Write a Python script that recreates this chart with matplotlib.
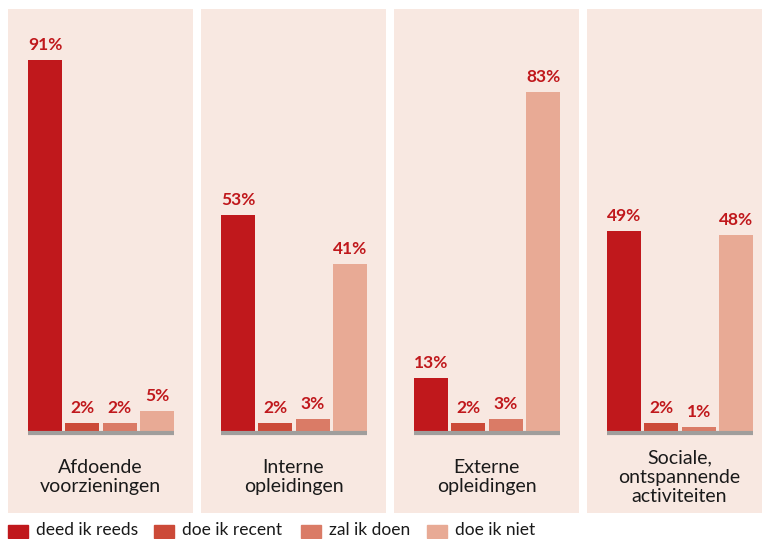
import matplotlib.pyplot as plt
from matplotlib.patches import Rectangle

plt.rcParams['font.family'] = ['Lato', 'DejaVu Sans']

categories = ['Afdoende\nvoorzieningen', 'Interne\nopleidingen',
              'Externe\nopleidingen', 'Sociale,\nontspannende\nactiviteiten']
series = ['deed ik reeds', 'doe ik recent', 'zal ik doen', 'doe ik niet']
values = [
    [91, 2, 2, 5],
    [53, 2, 3, 41],
    [13, 2, 3, 83],
    [49, 2, 1, 48],
]
colors = ['#C0181C', '#CC4A38', '#DA7B66', '#E8AA95']
panel_bg = '#F8E8E1'
label_red = '#C0181C'

W, H = 762, 539
fig = plt.figure(figsize=(W / 100, H / 100), dpi=100)

# panel geometry in pixels
panel_w, panel_h = 185, 504
panel_top = 9
gap = 8
bar_w = 0.91
px_per_unit = 146 / (3 + bar_w)
left_pad = 20 / px_per_unit
base_from_bottom = 82
px_per_pct = 4.08

for i, (cat, vals) in enumerate(zip(categories, values)):
    x0 = 8 + i * (panel_w + gap)
    ax = fig.add_axes([x0 / W, (H - panel_top - panel_h) / H, panel_w / W, panel_h / H])
    ax.set_facecolor(panel_bg)
    for s in ax.spines.values():
        s.set_visible(False)
    ax.set_xticks([])
    ax.set_yticks([])
    xs = list(range(len(vals)))
    ax.bar(xs, vals, width=bar_w, color=colors, zorder=2)
    for x, v in zip(xs, vals):
        ax.annotate(f'{v}%', (x, v), xytext=(0, 5), textcoords='offset points',
                    ha='center', va='bottom', fontsize=12.5, fontweight='bold',
                    color=label_red)
    ax.plot([-bar_w / 2, 3 + bar_w / 2], [-0.5, -0.5], color='#A09E9C',
            lw=3, solid_capstyle='butt', zorder=3)
    xl = -bar_w / 2 - left_pad
    ax.set_xlim(xl, xl + panel_w / px_per_unit)
    yb = -base_from_bottom / px_per_pct
    ax.set_ylim(yb, yb + panel_h / px_per_pct)
    fig.text((x0 + panel_w / 2) / W, (H - 477) / H, cat, ha='center', va='center',
             fontsize=14, color='#1a1a1a', linespacing=1.18)

# legend
leg_x = [8, 154, 301, 427]
for lx, name, c in zip(leg_x, series, colors):
    fig.patches.append(Rectangle((lx / W, (H - 538) / H), 20 / W, 13 / H,
                                 transform=fig.transFigure, color=c))
    fig.text((lx + 28) / W, (H - 530) / H, name, ha='left', va='center',
             fontsize=12.5, color='#1a1a1a')

fig.savefig('out.png', dpi=100, facecolor='white')
